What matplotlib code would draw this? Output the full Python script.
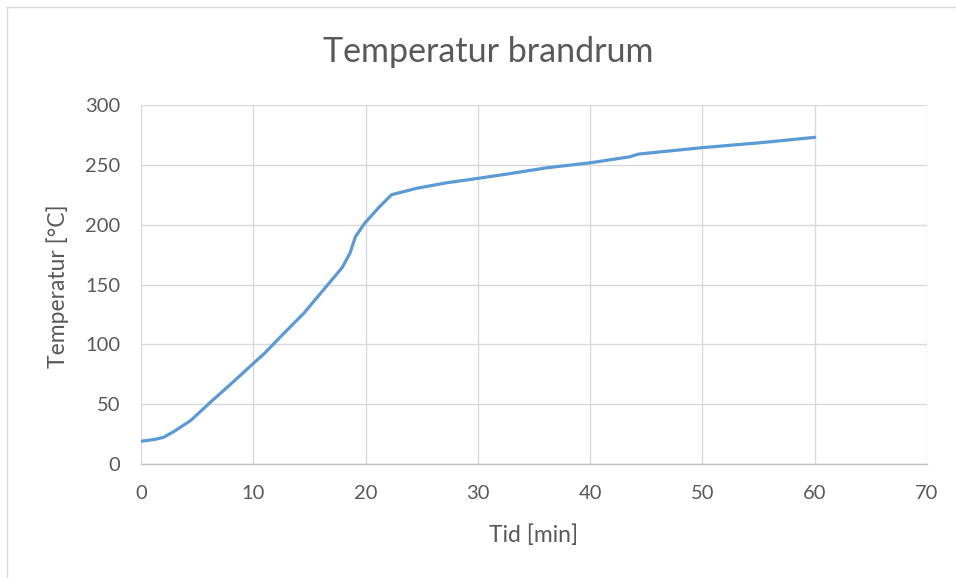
import matplotlib.pyplot as plt
from matplotlib.lines import Line2D

# time [min] and room temperature [degC]
tid = [0, 1.25, 2.0, 2.9, 4.4, 6.4, 7.9, 10.0, 11.0, 12.7, 14.5, 16.2, 17.9,
       18.6, 19.1, 19.9, 21.1, 22.3, 24.5, 27.2, 30.0, 32.6, 36.1, 40.0, 43.5,
       44.3, 49.9, 55.4, 60.0]
temperatur = [19, 20.6, 22.3, 27, 36.2, 53.5, 66, 84, 92.5, 109, 126, 145, 164,
              176, 190, 201, 213.6, 225, 230.3, 235, 238.7, 242.3, 247.5, 251.7,
              256.7, 259, 264.3, 268.7, 273]

x_ticks = [0, 10, 20, 30, 40, 50, 60, 70]
y_ticks = [0, 50, 100, 150, 200, 250, 300]

plt.rcParams['font.family'] = ['Lato', 'DejaVu Sans']
text_color = '#595959'
grid_color = '#D9D9D9'

fig = plt.figure(figsize=(9.56, 5.78), dpi=100)
ax = fig.add_axes([0.1475, 0.1972, 0.8222, 0.6211])

ax.plot(tid, temperatur, color='#5B9BD5', linewidth=2.3, solid_capstyle='round',
        solid_joinstyle='round', zorder=3)

ax.set_xlim(0, 70)
ax.set_ylim(0, 300)
ax.set_xticks(x_ticks)
ax.set_yticks(y_ticks)
ax.grid(True, color=grid_color, linewidth=1.0)
ax.set_axisbelow(True)
for side in ['top', 'right', 'left']:
    ax.spines[side].set_visible(False)
ax.spines['bottom'].set_color('#BFBFBF')
ax.spines['bottom'].set_linewidth(1.0)
ax.tick_params(length=0, labelsize=14.5, colors=text_color)
ax.tick_params(axis='x', pad=15)
ax.tick_params(axis='y', pad=15)

ax.set_xlabel('Tid [min]', fontsize=16.5, color=text_color)
ax.set_ylabel('Temperatur [°C]', fontsize=16.5, color=text_color)
ax.xaxis.set_label_coords(534 / 956, 1 - 535 / 578, transform=fig.transFigure)
ax.yaxis.set_label_coords(58 / 956, 1 - 286 / 578, transform=fig.transFigure)
ax.xaxis.label.set_va('center')
ax.yaxis.label.set_va('center')
fig.text(0.511, 1 - 52 / 578, 'Temperatur brandrum', fontsize=24.5, color=text_color,
         ha='center', va='center')

# chart frame (top and left edges)
fig.add_artist(Line2D([7 / 956, 7 / 956], [0, 1 - 7 / 578], transform=fig.transFigure,
                      color=grid_color, linewidth=1.0))
fig.add_artist(Line2D([7 / 956, 1], [1 - 7 / 578, 1 - 7 / 578], transform=fig.transFigure,
                      color=grid_color, linewidth=1.0))

fig.savefig('out.png', dpi=100, facecolor='white')
